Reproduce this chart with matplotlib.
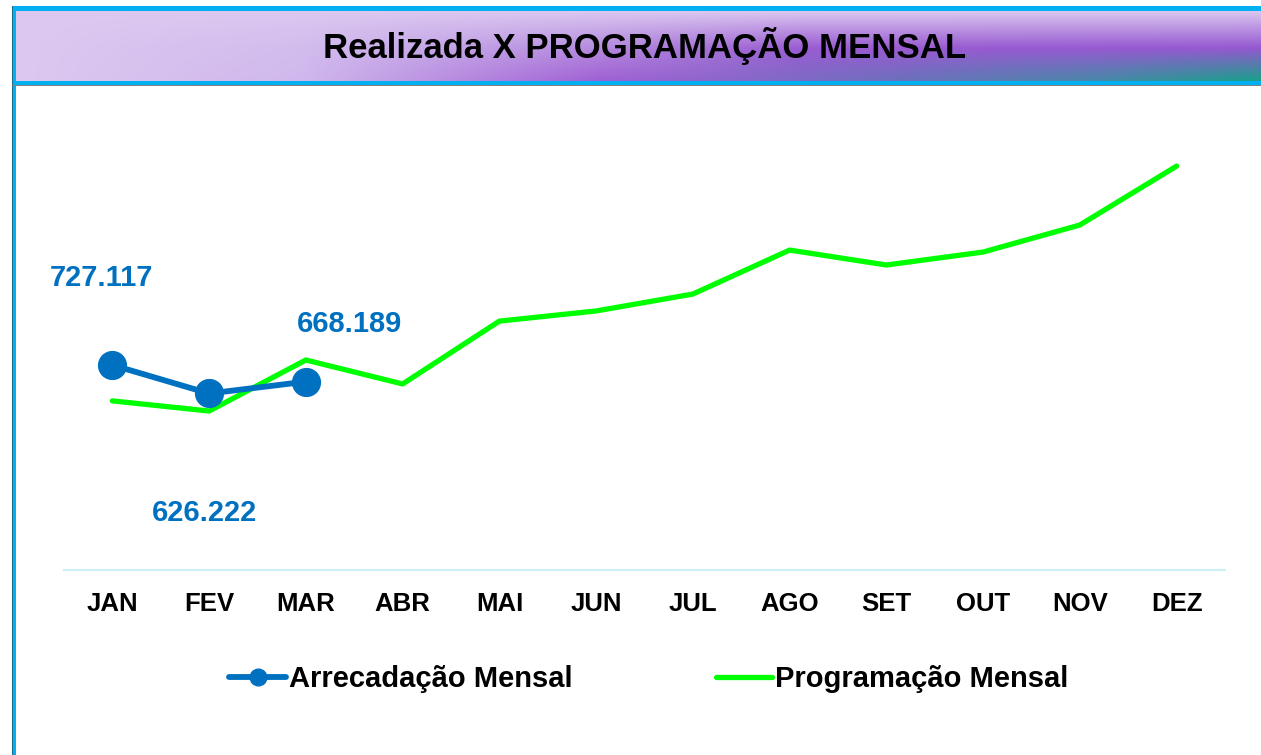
import matplotlib
matplotlib.use("Agg")
import matplotlib.pyplot as plt
import numpy as np
from matplotlib.colors import to_rgb
from matplotlib.patches import Rectangle

plt.rcParams['font.family'] = ['Liberation Sans', 'DejaVu Sans']

# data
months = ['JAN', 'FEV', 'MAR', 'ABR', 'MAI', 'JUN', 'JUL', 'AGO', 'SET', 'OUT', 'NOV', 'DEZ']
arrecadacao = [727.117, 626.222, 668.189]
programacao = [600, 564, 745, 660, 883, 919, 979, 1135, 1082, 1128, 1224, 1433]
arrec_labels = ['727.117', '626.222', '668.189']
label_offsets = [(-11, 87), (-5, -120), (44, 58)]  # pixels

W, H = 1261, 755
blue = '#0070c0'
green = '#00ff00'


def ramp(xs, stops):
    # stops: list of (pos, colour) -> rgb array along xs
    pos = [p for p, _ in stops]
    cols = np.array([to_rgb(c) for _, c in stops])
    return np.stack([np.interp(xs, pos, cols[:, k]) for k in range(3)], axis=-1)


fig = plt.figure(figsize=(W / 100, H / 100), dpi=100)
fig.patch.set_facecolor('white')

# left frame line
fig.add_artist(Rectangle((12 / W, 0), 4 / W, 1 - 6 / H, transform=fig.transFigure,
                         facecolor='#00b0f0', edgecolor='none', zorder=-2))
fig.add_artist(Rectangle((12 / W, 0), 1.2 / W, 1 - 6 / H, transform=fig.transFigure,
                         facecolor='#1f6a8c', edgecolor='none', zorder=-1))

# banner border
fig.add_artist(Rectangle((12 / W, 1 - 85 / H), 1, 79 / H, transform=fig.transFigure,
                         facecolor='#00b0f0', edgecolor='none', zorder=-2))
fig.add_artist(Rectangle((12 / W, 1 - 86 / H), 1, 1.5 / H, transform=fig.transFigure,
                         facecolor='#808080', edgecolor='none', zorder=-1))

# banner gradient: light top, purple middle, purple->teal bottom
bax = fig.add_axes([16 / W, 1 - 81 / H, (W - 16) / W, 70 / H])
bax.set_zorder(2)
bax.set_axis_off()
xf = np.linspace(0, 1, 600)
yf = np.linspace(0, 1, 70)
light = '#dcc8f0'
top = ramp(xf, [(0, light), (1, '#dac6f0')])
mid = ramp(xf, [(0, light), (0.23, '#d2bcee'), (0.47, '#b48ade'), (0.63, '#9a5cd2'), (1, '#9558d0')])
bot = ramp(xf, [(0, light), (0.23, '#d0b8ec'), (0.47, '#a060d4'), (0.71, '#6c70bc'),
                (0.87, '#4888a8'), (1, '#18a08a')])
img = np.zeros((len(yf), len(xf), 3))
for j, v in enumerate(yf):
    if v < 0.53:
        w = v / 0.53
        img[j] = top * (1 - w) + mid * w
    else:
        w = (v - 0.53) / 0.47
        img[j] = mid * (1 - w) + bot * w
bax.imshow(img, aspect='auto', extent=[0, 1, 1, 0], interpolation='bilinear')
bax.set_xlim(0, 1)
bax.set_ylim(1, 0)

fig.text(645 / W, 1 - 46 / H, 'Realizada X PROGRAMAÇÃO MENSAL', ha='center', va='center',
         fontsize=25, fontweight='bold', color='black', zorder=5)

# main chart
ax = fig.add_axes([64 / W, 1 - 570 / H, (1225 - 64) / W, (570 - 119) / H])
ax.set_facecolor('none')
x = np.arange(len(months))
l1, = ax.plot(x[:len(arrecadacao)], arrecadacao, color=blue, lw=4.2, marker='o',
              markersize=20, solid_capstyle='round', label='Arrecadação Mensal', zorder=3)
l2, = ax.plot(x, programacao, color=green, lw=3.8, solid_capstyle='round',
              label='Programação Mensal', zorder=2)

for i, (v, txt) in enumerate(zip(arrecadacao, arrec_labels)):
    ax.annotate(txt, xy=(i, v), xytext=label_offsets[i], textcoords='offset pixels',
                ha='center', va='center', fontsize=21, fontweight='bold', color=blue)

ax.set_xlim(-0.5, len(months) - 0.5)
ax.set_ylim(0, 1600)
ax.set_xticks(x)
ax.set_xticklabels(months, fontsize=18.5, fontweight='bold')
ax.tick_params(axis='x', length=0, pad=16)
ax.set_yticks([])
for s in ['top', 'right', 'left']:
    ax.spines[s].set_visible(False)
ax.spines['bottom'].set_color('#cdeff8')
ax.spines['bottom'].set_linewidth(1.5)

leg = fig.legend(handles=[l1, l2], loc='center', bbox_to_anchor=(649 / W, 1 - 679 / H),
                 ncol=2, frameon=False, handlelength=1.95, handletextpad=0.1,
                 columnspacing=4.9, markerscale=0.6,
                 prop={'size': 21, 'weight': 'bold'})

fig.savefig('out.png', dpi=100)
